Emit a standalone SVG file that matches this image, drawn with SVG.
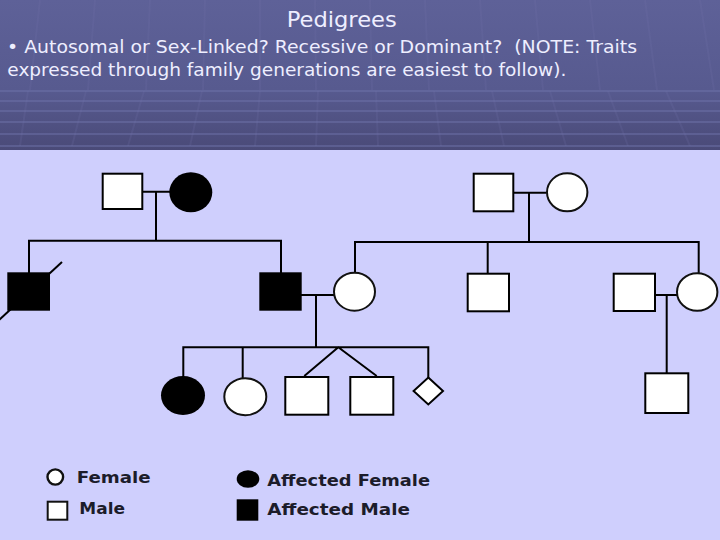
<svg xmlns="http://www.w3.org/2000/svg" width="720" height="540" viewBox="0 0 720 540">
<defs>
<linearGradient id="hdr" x1="0" y1="0" x2="0" y2="1">
<stop offset="0" stop-color="#5e6198"/>
<stop offset="0.6" stop-color="#575a8f"/>
<stop offset="1" stop-color="#4a4a78"/>
</linearGradient>
<style>
.ln{stroke:#000;stroke-width:2;fill:none}
.sq{fill:#fff;stroke:#000;stroke-width:2}
.af{fill:#000;stroke:none}
.ci{fill:#fff;stroke:#111;stroke-width:2}
.hd{font-family:"DejaVu Sans","Liberation Sans",sans-serif;fill:#eeeeff}
.lg{font-family:"DejaVu Sans","Liberation Sans",sans-serif;font-weight:bold;font-size:15px;fill:#1c1c2a}
.grid{stroke:#7276ad;stroke-width:2;opacity:0.45;fill:none}
.vg{stroke:#7276ad;stroke-width:2;opacity:0.18;fill:none}
</style>
</defs>
<rect x="0" y="0" width="720" height="540" fill="#cfcffd"/>
<g id="header-bg">
<rect x="0" y="0" width="720" height="150" fill="url(#hdr)"/>
<path class="vg" d="M40 0L30 90M95 0L88 90M150 0L146 90M205 0L203 90M260 0L260 90M315 0L316 90M370 0L372 90M425 0L429 90M480 0L486 90M535 0L543 90M590 0L600 90M645 0L657 90M700 0L714 90"/>
<path class="grid" d="M0 91H720M0 101H720M0 111H720M0 122H720M0 134H720M0 146H720"/>
<path class="vg" d="M28 91L20 146M86 91L72 146M144 91L128 146M202 91L190 146M260 91L255 146M318 91L316 146M376 91L378 146M434 91L441 146M492 91L504 146M550 91L566 146M608 91L628 146M666 91L690 146"/>
</g>
<text class="hd" x="341.7" y="26.7" font-size="22" text-anchor="middle" textLength="110" lengthAdjust="spacingAndGlyphs">Pedigrees</text>
<text class="hd" x="7" y="52.7" font-size="18" xml:space="preserve" textLength="630" lengthAdjust="spacingAndGlyphs">• Autosomal or Sex-Linked? Recessive or Dominant?  (NOTE: Traits</text>
<text class="hd" x="7.3" y="76" font-size="18" textLength="559" lengthAdjust="spacingAndGlyphs">expressed through family generations are easiest to follow).</text>

<g id="connectors">
<path class="ln" d="M143 191.7H170M156 191.7V240.7M28 240.7H282M29 240.7V273M281 240.7V273"/>
<path class="ln" d="M-3 322L62 262"/>
<path class="ln" d="M301 295H334M316 295V347.3M182.3 347.3H429.3M183.3 347.3V377M242.7 347.3V378M428.3 347.3V378M304.3 376L338.3 347.3L376.7 376"/>
<path class="ln" d="M514 192.7H546.5M529 192.7V242M354 242H699.7M355 242V272.5M487.7 242V273M698.7 242V273"/>
<path class="ln" d="M655 295H677M666.7 295V373"/>
</g>

<g id="g1-father-left"><rect class="sq" x="102.7" y="173.7" width="39.6" height="35.3"/></g>
<g id="g1-mother-left"><ellipse class="af" cx="190.8" cy="192.3" rx="21.5" ry="20"/></g>
<g id="g1-father-right"><rect class="sq" x="473.7" y="173.7" width="39.6" height="37.6"/></g>
<g id="g1-mother-right"><ellipse class="ci" cx="567.2" cy="192.3" rx="20.2" ry="19"/></g>

<g id="g2-son-deceased"><rect class="af" x="7.3" y="272.3" width="42.7" height="38.4"/></g>
<g id="g2-son-affected"><rect class="af" x="259.3" y="272.3" width="42.4" height="38.4"/></g>
<g id="g2-wife"><ellipse class="ci" cx="354.5" cy="291.7" rx="20.5" ry="19"/></g>
<g id="g2-son-right-1"><rect class="sq" x="467.7" y="273.7" width="41.3" height="37.6"/></g>
<g id="g2-husband-right"><rect class="sq" x="613.7" y="273.7" width="41.3" height="37.3"/></g>
<g id="g2-daughter-right"><ellipse class="ci" cx="697.2" cy="292" rx="20.2" ry="18.7"/></g>

<g id="g3-affected-daughter"><ellipse class="af" cx="183" cy="395.5" rx="22" ry="19.5"/></g>
<g id="g3-daughter"><ellipse class="ci" cx="245.3" cy="396.7" rx="21" ry="18.5"/></g>
<g id="g3-twin-1"><rect class="sq" x="285.3" y="377" width="43" height="37.7"/></g>
<g id="g3-twin-2"><rect class="sq" x="350.3" y="377" width="43" height="37.7"/></g>
<g id="g3-unknown"><polygon class="sq" points="428.3,377.5 443,391 428.3,404.5 413.6,391"/></g>
<g id="g3-son-right"><rect class="sq" x="645.3" y="373.3" width="43" height="39.7"/></g>

<g id="legend">
<ellipse cx="55.3" cy="477" rx="7.8" ry="7.6" fill="#fff" stroke="#111" stroke-width="2.4"/>
<text class="lg" x="76.7" y="483.3" textLength="74" lengthAdjust="spacingAndGlyphs">Female</text>
<rect x="47.7" y="501.7" width="19.6" height="18" fill="#fff" stroke="#111" stroke-width="2"/>
<text class="lg" x="79.3" y="514.3" textLength="45.7" lengthAdjust="spacingAndGlyphs">Male</text>
<ellipse cx="248" cy="479" rx="11.3" ry="8.7" fill="#000"/>
<text class="lg" x="267.3" y="485.7" textLength="162.7" lengthAdjust="spacingAndGlyphs">Affected Female</text>
<rect x="236.7" y="499.3" width="21.6" height="21.4" fill="#000"/>
<text class="lg" x="267.3" y="514.5" textLength="142.7" lengthAdjust="spacingAndGlyphs">Affected Male</text>
</g>
</svg>
